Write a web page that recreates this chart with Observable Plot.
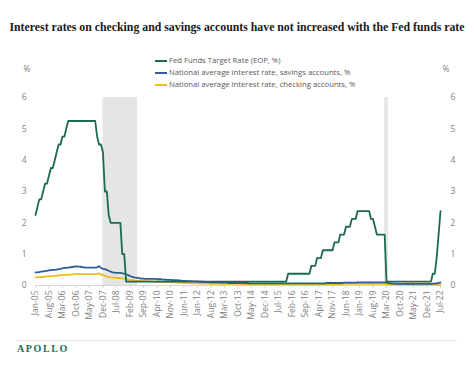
<!DOCTYPE html>
<html><head><meta charset="utf-8">
<script src="https://cdn.jsdelivr.net/npm/d3@7"></script>
<script src="https://cdn.jsdelivr.net/npm/@observablehq/plot@0.6"></script>
<style>
body{margin:0;background:#fff;width:474px;height:366px;position:relative;overflow:hidden;font-family:"Open Sans",sans-serif}
#title{position:absolute;left:0;top:20px;width:474px;text-align:center;font-family:"Liberation Serif",serif;font-weight:bold;font-size:11.8px;color:#1a1a1a;white-space:nowrap}
#chart{position:absolute;left:0;top:62px}
#legend{position:absolute;left:155px;top:55px;font-size:7.7px;color:#595959;line-height:11.8px;white-space:nowrap}
.sw{display:inline-block;width:12px;height:2px;vertical-align:middle;margin-right:2px}
#footer{position:absolute;left:17px;right:17px;top:340px;border-top:1px solid #e3e3e3}
#logo{position:absolute;left:17px;top:343px;font-family:"Liberation Serif",serif;font-size:10px;letter-spacing:1.6px;color:#1e6b52;font-weight:bold}
</style></head>
<body>
<div id="title">Interest rates on checking and savings accounts have not increased with the Fed funds rate</div>
<div id="chart"></div>
<div id="legend"></div>
<div id="footer"></div>
<div id="logo">APOLLO</div>
<script>
// Monthly, Jan-05 .. Jul-22
const startYear = 2005;
const fedFunds = [
  2.25,2.5,2.75,2.75,3.0,3.25,3.25,3.5,3.75,3.75,4.0,4.25,
  4.5,4.5,4.75,4.75,5.0,5.25,5.25,5.25,5.25,5.25,5.25,5.25,
  5.25,5.25,5.25,5.25,5.25,5.25,5.25,5.25,4.75,4.5,4.5,4.25,
  3.0,3.0,2.25,2.0,2.0,2.0,2.0,2.0,2.0,1.0,1.0,0.125,
  0.125,0.125,0.125,0.125,0.125,0.125,0.125,0.125,0.125,0.125,0.125,0.125,
  0.125,0.125,0.125,0.125,0.125,0.125,0.125,0.125,0.125,0.125,0.125,0.125,
  0.125,0.125,0.125,0.125,0.125,0.125,0.125,0.125,0.125,0.125,0.125,0.125,
  0.125,0.125,0.125,0.125,0.125,0.125,0.125,0.125,0.125,0.125,0.125,0.125,
  0.125,0.125,0.125,0.125,0.125,0.125,0.125,0.125,0.125,0.125,0.125,0.125,
  0.125,0.125,0.125,0.125,0.125,0.125,0.125,0.125,0.125,0.125,0.125,0.125,
  0.125,0.125,0.125,0.125,0.125,0.125,0.125,0.125,0.125,0.125,0.125,0.375,
  0.375,0.375,0.375,0.375,0.375,0.375,0.375,0.375,0.375,0.375,0.375,0.625,
  0.625,0.625,0.875,0.875,0.875,1.125,1.125,1.125,1.125,1.125,1.125,1.375,
  1.375,1.375,1.625,1.625,1.625,1.875,1.875,1.875,2.125,2.125,2.125,2.375,
  2.375,2.375,2.375,2.375,2.375,2.375,2.125,2.125,1.875,1.625,1.625,1.625,
  1.625,1.625,0.125,0.125,0.125,0.125,0.125,0.125,0.125,0.125,0.125,0.125,
  0.125,0.125,0.125,0.125,0.125,0.125,0.125,0.125,0.125,0.125,0.125,0.125,
  0.125,0.125,0.375,0.375,0.875,1.625,2.375
];
const savings = [
  .42,.42,.43,.44,.45,.46,.47,.48,.49,.50,.50,.51,
  .52,.53,.55,.56,.56,.57,.58,.59,.60,.61,.60,.60,
  .59,.58,.57,.57,.57,.57,.57,.57,.58,.62,.56,.53,
  .52,.50,.47,.44,.42,.41,.40,.40,.40,.39,.38,.36,
  .33,.30,.28,.26,.25,.24,.23,.22,.22,.21,.21,.21,
  .21,.21,.21,.20,.20,.20,.19,.19,.18,.18,.18,.17,
  .17,.17,.16,.16,.15,.15,.15,.14,.14,.14,.13,.13,
  .13,.12,.12,.12,.11,.11,.11,.10,.10,.10,.10,.10,
  .09,.09,.09,.09,.08,.08,.08,.08,.08,.08,.08,.08,
  .08,.08,.08,.07,.07,.07,.07,.07,.07,.07,.07,.07,
  .07,.07,.07,.07,.07,.07,.07,.07,.07,.07,.07,.07,
  .07,.07,.07,.07,.07,.07,.07,.07,.07,.07,.07,.07,
  .07,.07,.07,.07,.07,.07,.07,.08,.08,.08,.08,.08,
  .08,.08,.08,.08,.09,.09,.09,.09,.09,.09,.09,.10,
  .10,.10,.10,.10,.10,.10,.10,.10,.10,.10,.10,.10,
  .10,.10,.09,.08,.07,.06,.06,.05,.05,.05,.05,.05,
  .05,.05,.05,.05,.05,.05,.05,.05,.05,.05,.05,.05,
  .05,.05,.06,.06,.07,.08,.10
];
const checking = [
  .26,.26,.27,.27,.28,.28,.29,.29,.30,.30,.31,.31,
  .32,.33,.33,.34,.34,.35,.35,.35,.36,.36,.36,.36,
  .36,.36,.36,.36,.36,.36,.36,.36,.37,.39,.35,.33,
  .31,.29,.27,.26,.25,.25,.24,.24,.24,.23,.22,.21,
  .19,.18,.17,.16,.15,.15,.15,.14,.14,.14,.14,.13,
  .13,.13,.12,.12,.12,.12,.11,.11,.11,.11,.10,.10,
  .10,.10,.09,.09,.09,.08,.08,.08,.08,.07,.07,.07,
  .07,.06,.06,.06,.06,.06,.06,.05,.05,.05,.05,.05,
  .05,.05,.05,.05,.05,.05,.05,.05,.05,.05,.05,.05,
  .04,.04,.04,.04,.04,.04,.04,.04,.04,.04,.04,.04,
  .04,.04,.04,.04,.04,.04,.04,.04,.04,.04,.04,.04,
  .04,.04,.04,.04,.04,.04,.04,.04,.04,.04,.04,.04,
  .04,.04,.04,.04,.04,.04,.04,.04,.04,.04,.04,.04,
  .04,.04,.04,.04,.05,.05,.05,.05,.05,.05,.05,.05,
  .05,.05,.05,.05,.05,.05,.05,.05,.05,.05,.05,.05,
  .05,.05,.05,.04,.04,.04,.04,.04,.04,.04,.04,.04,
  .03,.03,.03,.03,.03,.03,.03,.03,.03,.03,.03,.03,
  .03,.03,.03,.03,.03,.03,.03
];
const tickLabels = ["Jan-05","Aug-05","Mar-06","Oct-06","May-07","Dec-07","Jul-08","Feb-09","Sep-09","Apr-10","Nov-10","Jun-11","Jan-12","Aug-12","Mar-13","Oct-13","May-14","Dec-14","Jul-15","Feb-16","Sep-16","Apr-17","Nov-17","Jun-18","Jan-19","Aug-19","Mar-20","Oct-20","May-21","Dec-21","Jul-22"];
const recessionStart = ["Dec-07","Feb-20"];
const recessionEnd = ["Jun-09","Apr-20"];
const yTicks = [0,1,2,3,4,5,6];
const seriesNames = ["Fed Funds Target Rate (EOP, %)","National average interest rate, savings accounts, %","National average interest rate, checking accounts, %"];
const seriesColors = ["#1c6b50","#2f5b98","#ecbc17"];

const parse = d3.utcParse("%b-%y");
const fmt = d3.utcFormat("%b-%y");
const rows = fedFunds.map((v, i) => ({date: new Date(Date.UTC(startYear, i, 1)), fed: v, savings: savings[i], checking: checking[i]}));
const recessions = recessionStart.map((s, i) => ({start: parse(s), end: parse(recessionEnd[i])}));
const tickDates = tickLabels.map(parse);

const axisCommon = {ticks: yTicks, tickFormat: d3.format("d"), tickSize: 0, label: "%", labelAnchor: "top", labelArrow: "none", fill: "#808080"};
const chart = Plot.plot({
  width: 474, height: 270,
  marginLeft: 35, marginRight: 34, marginTop: 35, marginBottom: 47,
  style: {fontFamily: "'Open Sans', sans-serif", fontSize: "8.5px", color: "#808080", background: "transparent"},
  x: {type: "utc", domain: [rows[0].date, rows[rows.length - 1].date]},
  y: {domain: [0, 6]},
  marks: [
    Plot.rect(recessions, {x1: "start", x2: "end", fill: "#e5e5e5"}),
    Plot.ruleY([0], {stroke: "#d6d6d6"}),
    Plot.axisX({ticks: tickDates, tickFormat: fmt, tickRotate: -90, tickSize: 3, tickPadding: 2, stroke: "#d6d6d6", fill: "#808080", label: null}),
    Plot.axisY({...axisCommon, anchor: "left", tickPadding: 9, labelOffset: 12}),
    Plot.axisY({...axisCommon, anchor: "right", tickPadding: 10, labelOffset: 9}),
    Plot.line(rows, {x: "date", y: "checking", stroke: seriesColors[2], strokeWidth: 1.8}),
    Plot.line(rows, {x: "date", y: "savings", stroke: seriesColors[1], strokeWidth: 1.8}),
    Plot.line(rows, {x: "date", y: "fed", stroke: seriesColors[0], strokeWidth: 1.8})
  ]
});
document.getElementById("chart").appendChild(chart);

const legend = document.getElementById("legend");
seriesNames.forEach((n, i) => {
  const row = document.createElement("div");
  const sw = document.createElement("span");
  sw.className = "sw"; sw.style.background = seriesColors[i];
  row.appendChild(sw);
  row.appendChild(document.createTextNode(n));
  legend.appendChild(row);
});
</script>
</body></html>
